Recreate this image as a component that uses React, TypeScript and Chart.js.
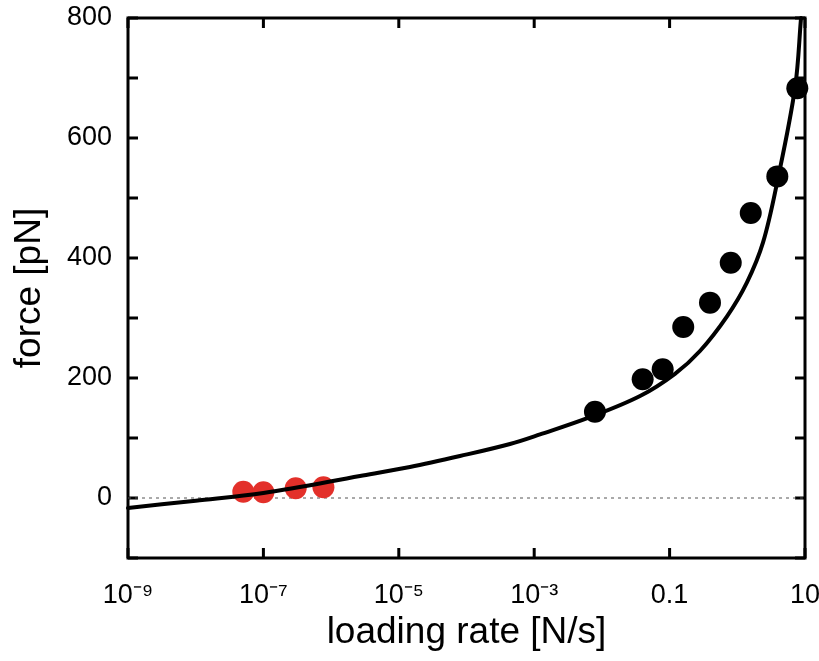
import React, { useEffect, useRef } from "react";
import { Chart, registerables } from "chart.js";

Chart.register(...registerables);

// Fit curve
const curveX = [1e-9, 1e-8, 1e-7, 2.67e-6, 1.46e-5, 8.0e-5, 4.39e-4, 1.22e-3, 6.67e-3, 0.0366, 0.12, 0.281, 0.705, 1.39, 2.4, 3.86, 7.13, 8.74];
const curveY = [-16.6, -4.5, 8.3, 36.6, 51.6, 69.9, 90, 106, 134.8, 170, 207, 245, 302.8, 359.4, 426, 525, 683.9, 800];

// Black data points
const blackX = [0.0079, 0.040, 0.079, 0.159, 0.395, 0.80, 1.58, 3.9, 7.7];
const blackY = [143.6, 198, 214.6, 285, 325.6, 392, 475, 536, 683];

// Red data points
const redX = [5.05e-8, 1.0e-7, 3.0e-7, 7.7e-7];
const redY = [10.5, 9.5, 16.1, 17.8];

// Axis ticks
const xTickValues = [1e-9, 1e-7, 1e-5, 1e-3, 0.1, 10];
const xTickLabels = ["10\u207B\u2079", "10\u207B\u2077", "10\u207B\u2075", "10\u207B\u00B3", "0.1", "10"];
const yTickMarks = [-100, 0, 100, 200, 300, 400, 500, 600, 700, 800];
const yTickLabels = [0, 200, 400, 600, 800];

const FONT = "'Liberation Sans', Arial, Helvetica, sans-serif";

const framePlugin = {
  id: "framePlugin",
  beforeDatasetsDraw(chart: any) {
    const { ctx, chartArea, scales } = chart;
    const { left, right, top, bottom } = chartArea;
    ctx.save();
    ctx.strokeStyle = "#000";
    ctx.lineWidth = 3;
    ctx.strokeRect(left, top, right - left, bottom - top);
    const tl = 10;
    ctx.beginPath();
    for (const v of xTickValues) {
      const px = scales.x.getPixelForValue(v);
      ctx.moveTo(px, bottom);
      ctx.lineTo(px, bottom - tl);
      ctx.moveTo(px, top);
      ctx.lineTo(px, top + tl);
    }
    for (const v of yTickMarks) {
      const py = scales.y.getPixelForValue(v);
      ctx.moveTo(left, py);
      ctx.lineTo(left + tl, py);
      ctx.moveTo(right, py);
      ctx.lineTo(right - tl, py);
    }
    ctx.stroke();
    ctx.restore();
  },
};

export default function App() {
  const ref = useRef<HTMLCanvasElement | null>(null);
  useEffect(() => {
    const canvas = ref.current;
    if (!canvas) return;
    const chart = new Chart(canvas, {
      type: "scatter",
      data: {
        datasets: [
          {
            label: "zero",
            data: [
              { x: xTickValues[0], y: 0 },
              { x: xTickValues[xTickValues.length - 1], y: 0 },
            ],
            showLine: true,
            borderColor: "#555",
            borderWidth: 1,
            borderDash: [3, 4],
            pointRadius: 0,
            order: 4,
          },
          {
            label: "red",
            data: redX.map((x, i) => ({ x, y: redY[i] })),
            backgroundColor: "#e3302a",
            borderWidth: 0,
            pointRadius: 11,
            clip: false,
            order: 3,
          },
          {
            label: "fit",
            data: curveX.map((x, i) => ({ x, y: curveY[i] })),
            showLine: true,
            borderColor: "#000",
            borderWidth: 4,
            pointRadius: 0,
            tension: 0.35,
            borderJoinStyle: "round",
            borderCapStyle: "round",
            clip: false,
            order: 2,
          },
          {
            label: "black",
            data: blackX.map((x, i) => ({ x, y: blackY[i] })),
            backgroundColor: "#000",
            borderWidth: 0,
            pointRadius: 11,
            clip: false,
            order: 1,
          },
        ],
      } as any,
      options: {
        animation: false,
        responsive: false,
        maintainAspectRatio: false,
        layout: { padding: { top: 18, right: 14, left: 0, bottom: 0 } },
        plugins: { legend: { display: false }, tooltip: { enabled: false } },
        scales: {
          x: {
            type: "logarithmic",
            min: 1e-9,
            max: 10,
            grid: { display: false, drawTicks: false },
            border: { display: false },
            afterBuildTicks: (scale: any) => {
              scale.ticks = xTickValues.map((v) => ({ value: v }));
            },
            afterFit: (scale: any) => {
              scale.height = 103;
              scale.paddingLeft = 0;
              scale.paddingRight = 0;
            },
            ticks: {
              autoSkip: false,
              maxRotation: 0,
              minRotation: 0,
              padding: 21,
              color: "#000",
              font: { family: FONT, size: 27 },
              callback: (_v: any, i: number) => xTickLabels[i],
            },
            title: {
              display: true,
              text: "loading rate [N/s]",
              color: "#000",
              font: { family: FONT, size: 37 },
              padding: { top: 0, bottom: 6 },
            },
          },
          y: {
            type: "linear",
            min: -100,
            max: 800,
            grid: { display: false, drawTicks: false },
            border: { display: false },
            afterBuildTicks: (scale: any) => {
              scale.ticks = yTickMarks.map((v) => ({ value: v }));
            },
            afterFit: (scale: any) => {
              scale.width = 128;
              scale.paddingTop = 0;
              scale.paddingBottom = 0;
            },
            ticks: {
              padding: 16,
              color: "#000",
              font: { family: FONT, size: 27 },
              callback: (v: any) => (yTickLabels.includes(Number(v)) ? String(v) : ""),
            },
            title: {
              display: true,
              text: "force [pN]",
              color: "#000",
              font: { family: FONT, size: 37 },
              padding: { top: 8, bottom: 0 },
            },
          },
        },
      } as any,
      plugins: [framePlugin],
    });
    return () => chart.destroy();
  }, []);
  return (
    <div style={{ position: "fixed", left: 0, top: 0, width: 819, height: 661, background: "#fff" }}>
      <canvas ref={ref} width={819} height={661} style={{ width: 819, height: 661 }} />
    </div>
  );
}
